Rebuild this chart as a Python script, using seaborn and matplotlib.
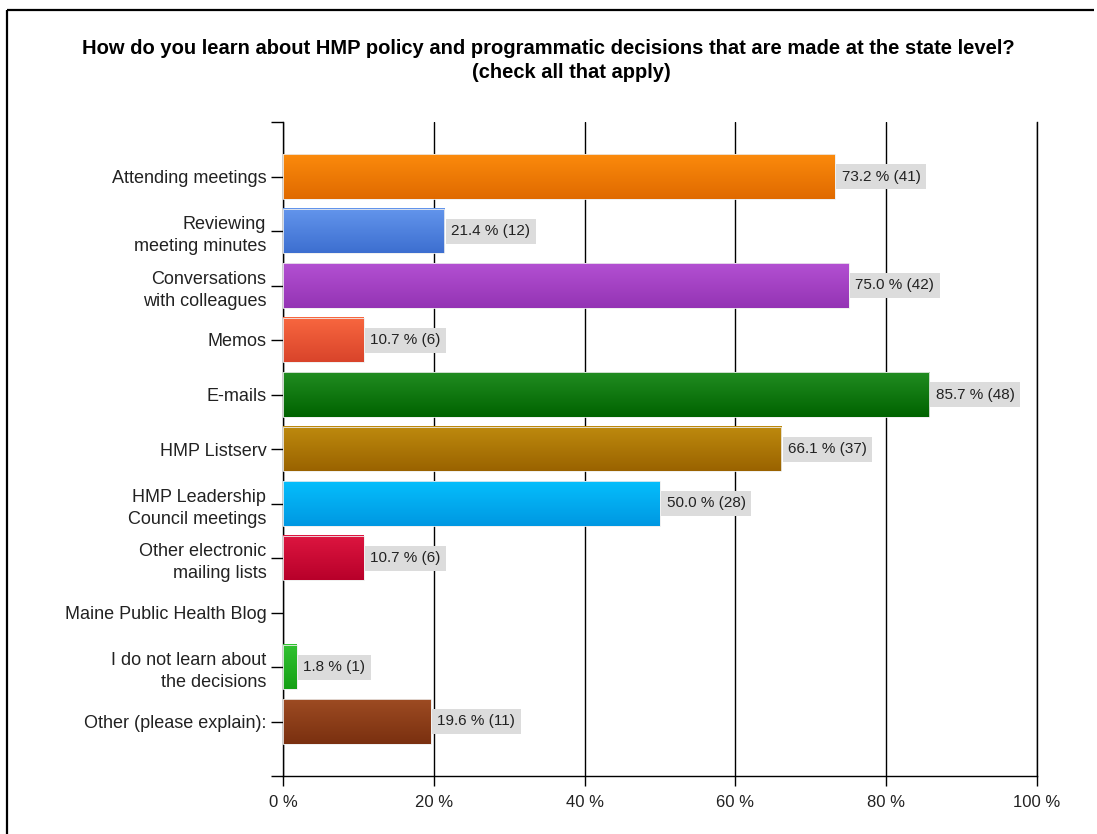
import matplotlib
matplotlib.use("Agg")
import matplotlib.pyplot as plt
import matplotlib.colors as mcolors
from matplotlib.lines import Line2D
import numpy as np
import pandas as pd
import seaborn as sns

# Survey responses
categories = [
    "Attending meetings",
    "Reviewing\nmeeting minutes",
    "Conversations\nwith colleagues",
    "Memos",
    "E-mails",
    "HMP Listserv",
    "HMP Leadership\nCouncil meetings",
    "Other electronic\nmailing lists",
    "Maine Public Health Blog",
    "I do not learn about\nthe decisions",
    "Other (please explain):",
]
percents = [73.2, 21.4, 75.0, 10.7, 85.7, 66.1, 50.0, 10.7, 0.0, 1.8, 19.6]
counts = [41, 12, 42, 6, 48, 37, 28, 6, 0, 1, 11]
x_ticks = [0, 20, 40, 60, 80, 100]
x_tick_labels = ["0 %", "20 %", "40 %", "60 %", "80 %", "100 %"]

# Gradient colours per bar: (top, bottom)
bar_colors = [
    ("#fb8a0c", "#e06a00"),
    ("#6395ec", "#3d6fd0"),
    ("#b350d2", "#9434b4"),
    ("#f8673f", "#d9442b"),
    ("#218c21", "#006300"),
    ("#be8a0e", "#9a6300"),
    ("#05befc", "#0098e2"),
    ("#dd1640", "#b8002a"),
    ("#888888", "#888888"),
    ("#31c231", "#15a015"),
    ("#9d4b22", "#7a3010"),
]

df = pd.DataFrame({"category": categories, "percent": percents, "count": counts})

sns.set_theme(style="white")
plt.rcParams["font.family"] = ["Liberation Sans", "DejaVu Sans"]

fig = plt.figure(figsize=(10.97, 8.34), dpi=100)
ax = fig.add_axes([283 / 1097, 1 - 776 / 834, (1037 - 283) / 1097, (776 - 122) / 834])

sns.barplot(data=df, x="percent", y="category", orient="h", ax=ax,
            color="#888888", width=0.81, saturation=1, zorder=3)

ax.set_xlim(0, 100)
ax.set_ylim(11, -1)

# Replace flat bars with vertical gradients
for patch, (c_top, c_bot) in zip(ax.patches, bar_colors):
    x0, y0 = patch.get_x(), patch.get_y()
    w, h = patch.get_width(), patch.get_height()
    patch.set_facecolor("none")
    patch.set_edgecolor("#eeeeee")
    patch.set_linewidth(0.6)
    patch.set_zorder(4)
    if w <= 0:
        patch.set_visible(False)
        continue
    top = np.array(mcolors.to_rgb(c_top))
    bot = np.array(mcolors.to_rgb(c_bot))
    t = np.linspace(0, 1, 64)[:, None]
    grad = (top[None, :] * (1 - t) + bot[None, :] * t)[:, None, :]
    ax.imshow(grad, extent=[x0, x0 + w, y0 + h, y0], aspect="auto",
              interpolation="bilinear", zorder=3)

ax.set_xlim(0, 100)
ax.set_ylim(11, -1)

# Value labels with grey boxes
for i, (p, c) in enumerate(zip(percents, counts)):
    if p <= 0:
        continue
    ax.annotate(f"{p:.1f} % ({c})", xy=(p, i), xytext=(4.8, 0),
                textcoords="offset points", ha="left", va="center",
                fontsize=11, color="#222222", zorder=6,
                bbox=dict(boxstyle="square,pad=0.36", fc="#dcdcdc", ec="none"))

# Axes styling
ax.spines["top"].set_visible(False)
for side in ["left", "bottom", "right"]:
    ax.spines[side].set_visible(True)
    ax.spines[side].set_color("black")
    ax.spines[side].set_linewidth(1.0)

ax.set_xticks(x_ticks)
ax.set_xticklabels(x_tick_labels, fontsize=12, color="#222222")
ax.tick_params(axis="x", direction="out", length=7, width=1, color="black",
               bottom=True, pad=7)
ax.tick_params(axis="y", which="both", direction="out", length=9, width=1,
               color="black", left=True, pad=3)
ax.set_yticks([-1, 11], minor=True)
ax.tick_params(axis="y", labelsize=13, labelcolor="#222222")
for lbl in ax.get_yticklabels():
    lbl.set_multialignment("right")
    lbl.set_linespacing(1.4)

ax.xaxis.grid(True, color="black", linewidth=1.0, zorder=1)
ax.set_axisbelow(True)
ax.set_xlabel("")
ax.set_ylabel("")

# Title
fig.text(548 / 1097, 1 - 48 / 834,
         "How do you learn about HMP policy and programmatic decisions that are made at the state level?",
         ha="center", va="center", fontsize=14.5, fontweight="bold", color="black")
fig.text(571 / 1097, 1 - 73 / 834, "(check all that apply)",
         ha="center", va="center", fontsize=14.5, fontweight="bold", color="black")

# Outer frame (left and top edges)
fig.add_artist(Line2D([6.5 / 1097, 6.5 / 1097], [0, 1 - 10 / 834],
                      transform=fig.transFigure, color="black", linewidth=1.6,
                      solid_capstyle="butt"))
fig.add_artist(Line2D([6.5 / 1097, 1094 / 1097], [1 - 10 / 834, 1 - 10 / 834],
                      transform=fig.transFigure, color="black", linewidth=1.6,
                      solid_capstyle="butt"))

fig.savefig("out.png", dpi=100, facecolor="white")
